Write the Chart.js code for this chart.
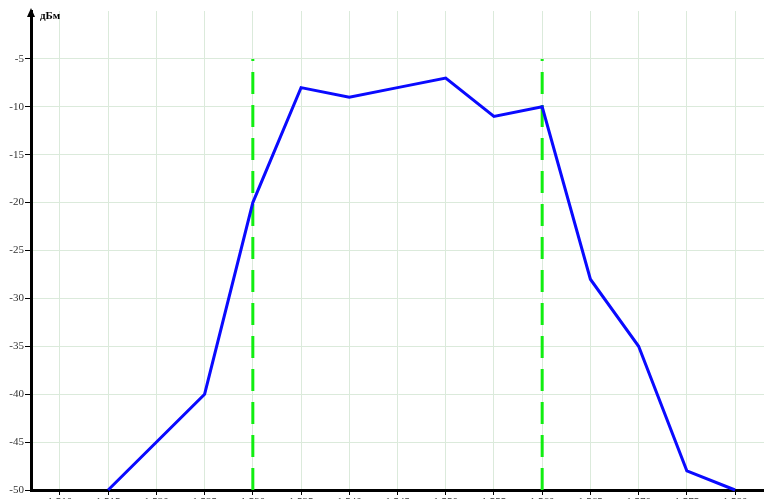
<!DOCTYPE html>
<html lang="ru">
<head>
<meta charset="UTF-8">
<title>Спектр</title>
<script src="https://cdn.jsdelivr.net/npm/chart.js"></script>
<style>
  html, body { margin: 0; padding: 0; overflow: hidden; background: #fff; }
  canvas { display: block; }
</style>
</head>
<body>
<canvas id="chart" width="764" height="515"></canvas>
<script>
// длина волны, нм
const wavelengths = [1515, 1525, 1530, 1535, 1540, 1545, 1550, 1555, 1560, 1565, 1570, 1575, 1580];
// уровень, дБм
const levels = [-50, -40, -20, -8, -9, -8, -7, -11, -10, -28, -35, -48, -50];
// границы полосы
const bandEdges = [1530, 1560];
const bandLevels = [-50, -5];

const xTicks = [1510, 1515, 1520, 1525, 1530, 1535, 1540, 1545, 1550, 1555, 1560, 1565, 1570, 1575, 1580];
const yTicks = [-50, -45, -40, -35, -30, -25, -20, -15, -10, -5];
const yUnit = "дБм";

const gridColor = "#dbeadb";
const tickFont = { family: "Liberation Serif", size: 11 };

// стрелка оси Y и подпись единиц
const axisArrow = {
  id: "axisArrow",
  afterDraw(chart) {
    const ctx = chart.ctx;
    const x = chart.scales.y.right;
    const top = chart.chartArea.top;
    ctx.save();
    ctx.fillStyle = "#000";
    ctx.beginPath();
    ctx.moveTo(x, top - 3);
    ctx.lineTo(x - 4, top + 6);
    ctx.lineTo(x + 4, top + 6);
    ctx.closePath();
    ctx.fill();
    ctx.font = "bold 11px 'Liberation Serif'";
    ctx.textBaseline = "middle";
    ctx.fillText(yUnit, x + 9, top + 5);
    ctx.restore();
  }
};

const datasets = [{
  data: wavelengths.map((w, i) => ({ x: w, y: levels[i] })),
  borderColor: "#0a0aff",
  borderWidth: 3,
  pointRadius: 0,
  tension: 0,
  clip: false
}];
bandEdges.forEach(w => {
  datasets.push({
    data: bandLevels.map(v => ({ x: w, y: v })),
    borderColor: "#11ee11",
    borderWidth: 3,
    borderDash: [22, 11],
    pointRadius: 0,
    clip: false
  });
});

new Chart(document.getElementById("chart"), {
  type: "line",
  data: { datasets },
  options: {
    responsive: false,
    animation: false,
    layout: { padding: { top: 11, right: 0, left: 0, bottom: 0 } },
    plugins: { legend: { display: false }, tooltip: { enabled: false } },
    scales: {
      x: {
        type: "linear",
        min: 1507,
        max: 1583,
        afterBuildTicks: s => { s.ticks = xTicks.map(v => ({ value: v })); },
        afterFit: s => { s.height = 25; },
        grid: { color: gridColor, tickColor: "#000", tickLength: 5 },
        border: { color: "#000", width: 3 },
        ticks: { font: tickFont, color: "#333", padding: 1, maxRotation: 0 }
      },
      y: {
        min: -50,
        max: 0,
        afterBuildTicks: s => { s.ticks = yTicks.map(v => ({ value: v })); },
        afterFit: s => { s.width = 31; },
        grid: { color: gridColor, tickColor: "#000", tickLength: 6 },
        border: { color: "#000", width: 3 },
        ticks: { font: tickFont, color: "#333", padding: 1 }
      }
    }
  },
  plugins: [axisArrow]
});
</script>
</body>
</html>
